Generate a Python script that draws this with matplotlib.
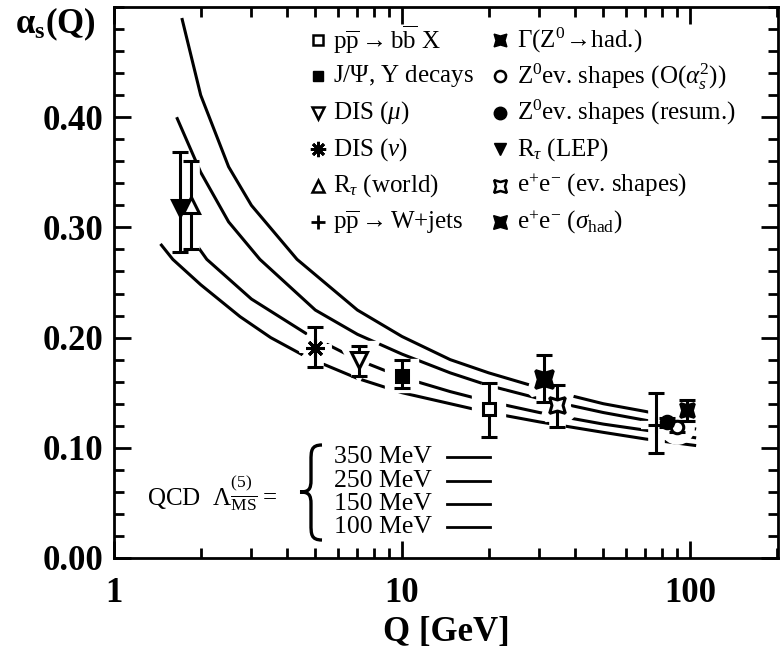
import matplotlib
matplotlib.use("Agg")
import matplotlib.pyplot as plt
from matplotlib.lines import Line2D
from matplotlib.path import Path
from matplotlib.patches import PathPatch
from matplotlib.ticker import MultipleLocator, LogLocator, FixedLocator, NullFormatter

plt.rcParams['font.family'] = ['Liberation Serif', 'DejaVu Serif']
plt.rcParams['mathtext.fontset'] = 'custom'
plt.rcParams['mathtext.rm'] = 'Liberation Serif'
plt.rcParams['mathtext.it'] = 'Liberation Serif:italic'
plt.rcParams['mathtext.bf'] = 'Liberation Serif:bold'

## ---- running alpha_s curves ----
q_100 = [1.45, 1.6, 2.0, 2.74, 3.5, 4.69, 7.0, 10.0, 14.7, 20.0, 30.0, 50.0, 70.0, 105.0]
a_100 = [0.285, 0.271, 0.248, 0.219, 0.200, 0.182, 0.163, 0.150, 0.140, 0.132, 0.1235, 0.114, 0.108, 0.102]
q_150 = [1.55, 1.75, 2.1, 3.0, 4.69, 7.0, 10.0, 14.7, 20.0, 30.0, 50.0, 70.0, 105.0]
a_150 = [0.325, 0.300, 0.271, 0.235, 0.203, 0.180, 0.164, 0.151, 0.142, 0.132, 0.1215, 0.116, 0.109]
q_250 = [1.65, 2.0, 2.5, 3.21, 5.0, 7.0, 10.0, 14.7, 20.0, 30.0, 50.0, 70.0, 105.0]
a_250 = [0.400, 0.350, 0.305, 0.271, 0.225, 0.203, 0.185, 0.168, 0.1565, 0.1446, 0.132, 0.125, 0.117]
q_350 = [1.72, 2.0, 2.5, 3.0, 4.32, 7.0, 10.0, 14.7, 20.0, 30.0, 50.0, 70.0, 105.0]
a_350 = [0.490, 0.420, 0.355, 0.320, 0.271, 0.225, 0.201, 0.180, 0.168, 0.1544, 0.140, 0.133, 0.1235]

## ---- measurements: Q, alpha_s, err_low, err_high ----
q_bbx, a_bbx, el_bbx, eh_bbx = 20.0, 0.135, 0.025, 0.024
q_jpsi, a_jpsi, el_jpsi, eh_jpsi = 10.0, 0.165, 0.011, 0.015
q_dism, a_dism, el_dism, eh_dism = 7.1, 0.180, 0.015, 0.012
q_disn, a_disn, el_disn, eh_disn = 5.0, 0.191, 0.018, 0.019
q_rtw, a_rtw, el_rtw, eh_rtw = 1.85, 0.320, 0.040, 0.040
q_wjet, a_wjet, el_wjet, eh_wjet = 76.0, 0.121, 0.026, 0.029
q_gz, a_gz, el_gz, eh_gz = 97.5, 0.134, 0.010, 0.009
q_zo2, a_zo2, el_zo2, eh_zo2 = 90.4, 0.119, 0.005, 0.005
q_zres, a_zres, el_zres, eh_zres = 83.0, 0.123, 0.004, 0.004
q_rtl, a_rtl, el_rtl, eh_rtl = 1.70, 0.318, 0.040, 0.050
q_eesh, a_eesh, el_eesh, eh_eesh = 34.5, 0.139, 0.020, 0.018
q_eehad, a_eehad, el_eehad, eh_eehad = 31.0, 0.162, 0.020, 0.022

lam_labels = ["350 MeV", "250 MeV", "150 MeV", "100 MeV"]

left_labels = [
    r'p$\overline{\rm p}\rightarrow$b$\overline{\rm b}$ X',
    r'J/$\Psi$, Υ decays',
    r'DIS ($\mu$)',
    r'DIS ($\nu$)',
    r'R$_\tau$ (world)',
    r'p$\overline{\rm p}\rightarrow$W+jets',
]
right_labels = [
    r'$\Gamma$(Z$^0\!\rightarrow\!$had.)',
    r'Z$^0$ev. shapes (O($\alpha_s^2$))',
    r'Z$^0$ev. shapes (resum.)',
    r'R$_\tau$ (LEP)',
    r'e$^{+}$e$^{-}$ (ev. shapes)',
    r'e$^{+}$e$^{-}$ ($\sigma_{\rm had}$)',
]

star4 = (4, 1, 45)
aster = (8, 2, 0)

points = [
    # q, a, el, eh, marker, size, filled
    (q_bbx, a_bbx, el_bbx, eh_bbx, 's', 9, False),
    (q_jpsi, a_jpsi, el_jpsi, eh_jpsi, 's', 9, True),
    (q_dism, a_dism, el_dism, eh_dism, 'v', 11, False),
    (q_disn, a_disn, el_disn, eh_disn, aster, 13, True),
    (q_rtw, a_rtw, el_rtw, eh_rtw, '^', 11, False),
    (q_wjet, a_wjet, el_wjet, eh_wjet, '+', 12, True),
    (q_gz, a_gz, el_gz, eh_gz, star4, 14, True),
    (q_zo2, a_zo2, el_zo2, eh_zo2, 'o', 9, False),
    (q_zres, a_zres, el_zres, eh_zres, 'o', 9, True),
    (q_rtl, a_rtl, el_rtl, eh_rtl, 'v', 11, True),
    (q_eesh, a_eesh, el_eesh, eh_eesh, star4, 16, False),
    (q_eehad, a_eehad, el_eehad, eh_eehad, star4, 18, True),
]

fig = plt.figure(figsize=(7.82, 6.57), dpi=100)
ax = fig.add_axes([114/782, 1 - 558/657, 664/782, 551/657])


def px(x, y):
    # pixel position (from top-left) -> figure fraction
    return (x / 782, 1 - y / 657)


for q, a in [(q_100, a_100), (q_150, a_150), (q_250, a_250), (q_350, a_350)]:
    ax.plot(q, a, color='black', lw=2.2, zorder=2, solid_capstyle='butt')

# white halo under each point -> the breaks in the curves
for q, a, el, eh, m, s, f in points:
    ax.errorbar([q], [a], yerr=[[el], [eh]], fmt='none', ecolor='white',
                elinewidth=12, capsize=0, zorder=3)
    ax.plot([q], [a], marker=m, ms=s + 10, color='white', mec='white', mew=6, zorder=3)

for q, a, el, eh, m, s, f in points:
    ax.errorbar([q], [a], yerr=[[el], [eh]], fmt='none', ecolor='black',
                elinewidth=2.2, capsize=6, capthick=2.2, zorder=4)
    ax.plot([q], [a], marker=m, ms=s, color='black', mec='black',
            mfc='black' if f else 'white', mew=2.2, ls='none', zorder=5)

ax.set_xscale('log')
ax.set_xlim(1, 202)
ax.set_ylim(0, 0.5)
ax.xaxis.set_major_locator(FixedLocator([1, 10, 100]))
ax.xaxis.set_minor_locator(LogLocator(base=10, subs=range(2, 10)))
ax.xaxis.set_minor_formatter(NullFormatter())
ax.set_xticklabels(['1', '10', '100'])
ax.yaxis.set_minor_locator(MultipleLocator(0.02))
ax.set_yticks([0.0, 0.1, 0.2, 0.3, 0.4])
ax.set_yticklabels(['0.00', '0.10', '0.20', '0.30', '0.40'])
ax.tick_params(which='both', direction='in', top=True, right=True, width=2)
ax.tick_params(which='major', length=12, labelsize=25, pad=8)
ax.tick_params(axis='x', which='major', pad=14)
ax.tick_params(which='minor', length=7)
for lab in ax.get_xticklabels() + ax.get_yticklabels():
    lab.set_fontweight('bold')
for sp in ax.spines.values():
    sp.set_linewidth(2)

ax.set_xlabel('Q [GeV]', fontsize=25, fontweight='bold', labelpad=4)
fig.text(15/782, 1 - 24/657, r'$\mathbf{\alpha}_{\mathbf{s}}$(Q)', fontsize=25,
         fontweight='bold', va='center', ha='left')

# legend, placed by hand in two columns
left_marks = [dict(marker='s', ms=7, mfc='white', mew=1.8),
              dict(marker='s', ms=7, mfc='black'),
              dict(marker='v', ms=9, mfc='white', mew=1.8),
              dict(marker=aster, ms=11, mfc='black', mew=2),
              dict(marker='^', ms=9, mfc='white', mew=1.8),
              dict(marker='+', ms=10, mew=2)]
right_marks = [dict(marker=star4, ms=13, mfc='black'),
               dict(marker='o', ms=8, mfc='white', mew=1.8),
               dict(marker='o', ms=9, mfc='black'),
               dict(marker='v', ms=9, mfc='black'),
               dict(marker=star4, ms=13, mfc='white', mew=1.8),
               dict(marker=star4, ms=14, mfc='black')]
for i in range(6):
    yy = 40 + 36.4 * i
    fig.add_artist(Line2D([px(318, yy)[0]], [px(318, yy)[1]], ls='none',
                          color='black', mec='black', **left_marks[i]))
    fig.text(*px(333, yy), left_labels[i], fontsize=18, va='center', ha='left')
    fig.add_artist(Line2D([px(500, yy)[0]], [px(500, yy)[1]], ls='none',
                          color='black', mec='black', **right_marks[i]))
    fig.text(*px(517, yy), right_labels[i], fontsize=18, va='center', ha='left')

# Lambda annotation
fig.text(*px(147, 493), r'QCD  $\Lambda^{(5)}_{\overline{\rm MS}}$ =',
         fontsize=18, va='center', ha='left')

# curly brace drawn as a path
top, mid, bot = 445, 492, 540
xr, xm, xl = 322, 311, 300
verts = [px(xr, top), px(xm, top), px(xm, top + 6), px(xm, top + 16),
         px(xm, mid - 12),
         px(xm, mid - 3), px(xm - 2, mid), px(xl, mid),
         px(xm - 2, mid), px(xm, mid + 3), px(xm, mid + 12),
         px(xm, bot - 16),
         px(xm, bot - 6), px(xm, bot), px(xr, bot)]
codes = [Path.MOVETO, Path.CURVE4, Path.CURVE4, Path.CURVE4,
         Path.LINETO,
         Path.CURVE4, Path.CURVE4, Path.CURVE4,
         Path.CURVE4, Path.CURVE4, Path.CURVE4,
         Path.LINETO,
         Path.CURVE4, Path.CURVE4, Path.CURVE4]
fig.add_artist(PathPatch(Path(verts, codes), fill=False, lw=2.4,
                         transform=fig.transFigure))

rows_y = [457, 481, 504, 527]
for lab, yy in zip(lam_labels, rows_y):
    fig.text(*px(334, yy), lab, fontsize=18.5, va='center', ha='left')
    fig.add_artist(Line2D([447/782, 490/782], [1 - yy/657, 1 - yy/657],
                          color='black', lw=2))

fig.savefig('out.png', dpi=100)
